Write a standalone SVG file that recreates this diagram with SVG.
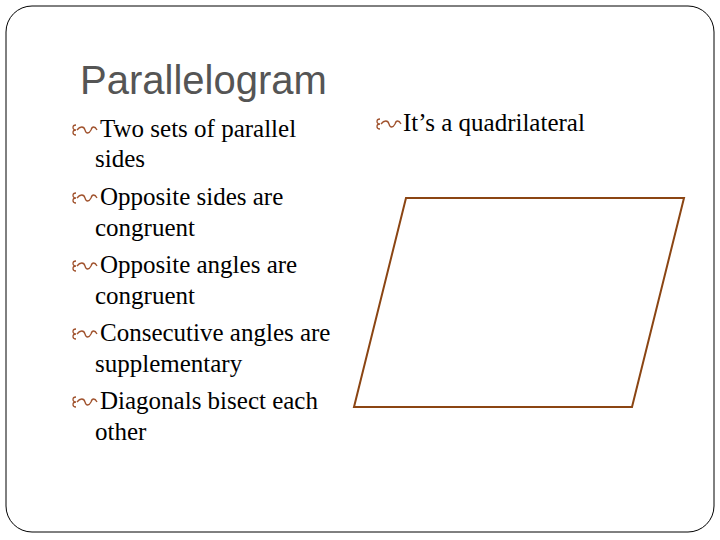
<svg xmlns="http://www.w3.org/2000/svg" width="720" height="540" viewBox="0 0 720 540">
<defs>
<style>
.t{font-family:"Liberation Serif","Times New Roman",serif;font-size:25px;fill:#000}
.b{fill:none;stroke:#a0522d;stroke-width:1.3}
</style>
<g id="bul"><path class="b" d="M0,-6 c-4,0 -4,5 0,5 c-4,0 -4,5 0,5 M1,-1 c3,-4 7,-4 8,0 c1,4 4,4 6,0 c1,-4 4,-4 6,0"/></g>
</defs>
<rect x="6" y="6" width="708" height="526" rx="26" fill="#fff" stroke="#000" stroke-width="1"/>
<text id="title" x="80" y="94" font-family="Liberation Sans,sans-serif" font-size="40" fill="#555">Parallelogram</text>
<g id="left">
<use href="#bul" x="76" y="131"/><text class="t" x="100" y="137">Two sets of parallel</text>
<text class="t" x="95" y="167">sides</text>
<use href="#bul" x="76" y="199"/><text class="t" x="100" y="205">Opposite sides are</text>
<text class="t" x="95" y="236">congruent</text>
<use href="#bul" x="76" y="267"/><text class="t" x="100" y="273">Opposite angles are</text>
<text class="t" x="95" y="304">congruent</text>
<use href="#bul" x="76" y="335"/><text class="t" x="100" y="341">Consecutive angles are</text>
<text class="t" x="95" y="372">supplementary</text>
<use href="#bul" x="76" y="403"/><text class="t" x="100" y="409">Diagonals bisect each</text>
<text class="t" x="95" y="440">other</text>
</g>
<g id="right">
<use href="#bul" x="380" y="125"/><text class="t" x="403" y="131">It’s a quadrilateral</text>
</g>
<polygon id="shape" points="406,198 684,198 632,407 354,407" fill="none" stroke="#8b4513" stroke-width="2"/>
</svg>
